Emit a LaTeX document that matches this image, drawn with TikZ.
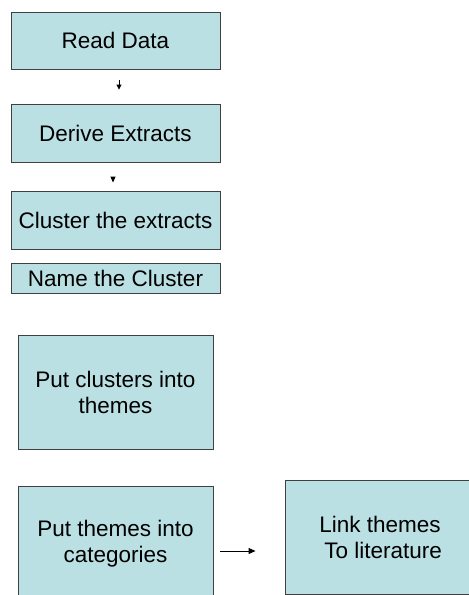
\documentclass[tikz,border=0pt]{standalone}
\usepackage{fontspec}
\setmainfont{Liberation Sans}
\usetikzlibrary{arrows.meta}
\definecolor{boxfill}{HTML}{BBE0E3}
\definecolor{boxline}{HTML}{404040}
\tikzset{
  stepbox/.style={draw=boxline, fill=boxfill, line width=0.9pt, inner sep=0pt,
    align=center, font=\fontsize{22.5}{26}\selectfont},
  arr/.style={-{Triangle[length=5pt,width=5pt]}, line width=0.9pt, black}
}
\begin{document}
\begin{tikzpicture}[x=1pt,y=-1pt]
\clip (0,0) rectangle (469,595);
\fill[white] (0,0) rectangle (469,595);
\node[stepbox, minimum width=209pt, minimum height=57pt] (b1) at (115.5,40.5) {Read Data};
\node[stepbox, minimum width=209pt, minimum height=58pt] (b2) at (115.5,133) {Derive Extracts};
\node[stepbox, minimum width=209pt, minimum height=58pt] (b3) at (115.5,220) {Cluster the extracts};
\node[stepbox, minimum width=209pt, minimum height=30pt] (b4) at (115.5,278) {Name the Cluster};
\node[stepbox, minimum width=195pt, minimum height=114pt] (b5) at (115.5,392) {Put clusters into\\themes};
\node[stepbox, minimum width=195pt, minimum height=116pt] (b6) at (115.5,544) {Put themes into\\categories};
\node[stepbox, minimum width=190pt, minimum height=114pt] (b7) at (380,537) {Link themes\\\ To literature};
\draw[arr, shorten <=11pt, shorten >=14pt] ([xshift=3.5pt]b1.south) -- ([xshift=3.5pt]b2.north);
\draw[arr, -{Triangle[length=6pt,width=5pt]}, shorten <=15pt, shorten >=8pt] ([xshift=-2.5pt]b2.south) -- ([xshift=-2.5pt]b3.north);
\draw[arr, -{Triangle[length=7pt,width=6pt]}, shorten <=7pt, shorten >=29pt] ([yshift=-7pt]b6.east) -- ([yshift=-14pt]b7.west);
\end{tikzpicture}
\end{document}
